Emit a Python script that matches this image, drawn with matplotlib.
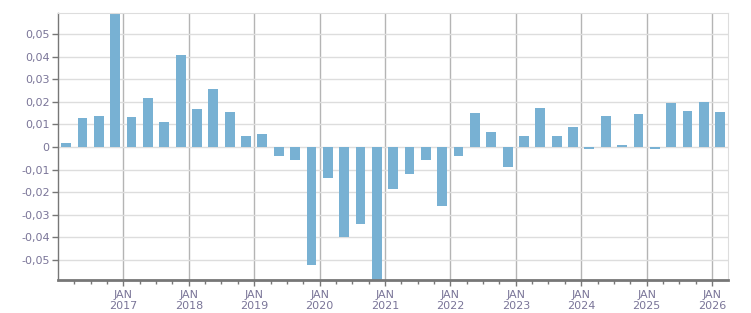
import matplotlib
matplotlib.use("Agg")
import matplotlib.pyplot as plt
import numpy as np

# quarterly values, Q1 2016 .. Q1 2026
years = [2016] * 4 + [2017] * 4 + [2018] * 4 + [2019] * 4 + [2020] * 4 + \
        [2021] * 4 + [2022] * 4 + [2023] * 4 + [2024] * 4 + [2025] * 4 + [2026]
quarters = [1, 2, 3, 4] * 10 + [1]
values = [
    0.0018, 0.0130, 0.0139, 0.0600,
    0.0134, 0.0219, 0.0112, 0.0407,
    0.0170, 0.0255, 0.0157, 0.0049,
    0.0058, -0.0038, -0.0056, -0.0522,
    -0.0136, -0.0398, -0.0339, -0.0600,
    -0.0184, -0.0118, -0.0056, -0.0260,
    -0.0038, 0.0152, 0.0067, -0.0087,
    0.0049, 0.0175, 0.0049, 0.0090,
    -0.0009, 0.0139, 0.0009, 0.0148,
    -0.0009, 0.0197, 0.0161, 0.0201,
    0.0157,
]
tick_years = list(range(2017, 2027))
yticks = [-0.05, -0.04, -0.03, -0.02, -0.01, 0, 0.01, 0.02, 0.03, 0.04, 0.05]

bar_color = "#78b1d3"
text_color = "#7a7598"

x = np.array(years) + (np.array(quarters) - 1) * 0.25 + 0.125

fig = plt.figure(figsize=(7.51, 3.13), dpi=100)
ax = fig.add_axes([58 / 751, 33 / 313, 670 / 751, 267 / 313])

ax.bar(x, values, width=0.15, color=bar_color, zorder=3)

ax.set_xlim(2016.0, 2026.245)
ax.set_ylim(-0.0588, 0.0593)

ax.set_yticks(yticks)
ax.set_yticklabels(["0" if v == 0 else f"{v:.2f}".replace(".", ",") for v in yticks])
ax.set_xticks(tick_years)
ax.set_xticklabels([f"JAN\n{y}" for y in tick_years])
ax.set_xticks(np.arange(2016.25, 2026.25, 0.25), minor=True)

ax.grid(axis="y", color="#dddddd", linewidth=1, zorder=0)
ax.grid(axis="x", color="#b4b4b4", linewidth=1, zorder=1)

ax.tick_params(axis="y", length=4, width=1, color="#777777", colors=text_color,
               labelsize=8, pad=2)
ax.tick_params(axis="x", which="major", length=4, width=1, color="#777777",
               colors=text_color, labelsize=8, pad=3)
ax.tick_params(axis="x", which="minor", length=3, width=1, color="#777777")

ax.spines["left"].set_color("#777777")
ax.spines["left"].set_linewidth(1)
ax.spines["bottom"].set_color("#777777")
ax.spines["bottom"].set_linewidth(2)
ax.spines["right"].set_color("#dddddd")
ax.spines["top"].set_color("#dddddd")
for s in ax.spines.values():
    s.set_zorder(4)

fig.savefig("out.png", dpi=100)
